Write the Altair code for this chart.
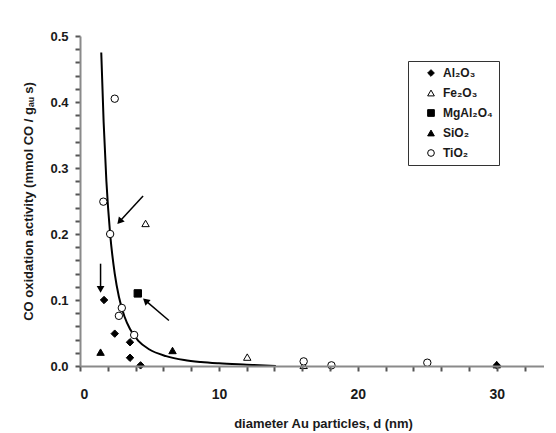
import altair as alt
import pandas as pd

# ---- data ----
supports = ["Al\u2082O\u2083", "Fe\u2082O\u2083", "MgAl\u2082O\u2084", "SiO\u2082", "TiO\u2082"]

al_x = [1.73, 2.5, 3.6, 3.6, 4.36, 30.0]
al_y = [0.100, 0.049, 0.036, 0.0125, 0.001, 0.001]
fe_x = [4.72, 12.04, 16.1]
fe_y = [0.216, 0.0135, 0.001]
mg_x = [4.16]
mg_y = [0.110]
si_x = [1.48, 6.66, 30.0]
si_y = [0.021, 0.0235, 0.002]
ti_x = [2.5, 1.68, 2.17, 3.01, 2.8, 3.9, 16.1, 18.1, 25.0]
ti_y = [0.405, 0.249, 0.200, 0.088, 0.076, 0.047, 0.007, 0.001, 0.005]

curve_x = [1.53, 1.7, 1.9, 2.17, 2.5, 2.8, 3.2, 3.6, 4.2, 5.0, 6.2, 7.5, 8.7, 10.0, 12.0, 14.1]
curve_y = [0.475, 0.37, 0.28, 0.20, 0.14, 0.105, 0.075, 0.056, 0.038, 0.025, 0.015, 0.009, 0.006, 0.004, 0.002, 0.0]

arrow_x0 = [4.54, 1.48, 6.4]
arrow_y0 = [0.2575, 0.155, 0.069]
arrow_x1 = [2.85, 1.48, 4.72]
arrow_y1 = [0.219, 0.116, 0.099]
arrow_angle = [221, 180, 312]

x_ticks = [0, 2, 4, 6, 8, 10, 12, 14, 16, 18, 20, 22, 24, 26, 28, 30, 32]
y_ticks = [0.0, 0.02, 0.04, 0.06, 0.08, 0.1, 0.12, 0.14, 0.16, 0.18, 0.2, 0.22, 0.24,
           0.26, 0.28, 0.3, 0.32, 0.34, 0.36, 0.38, 0.4, 0.42, 0.44, 0.46, 0.48, 0.5]

# ---- tables ----
rows = []
for name, xs, ys in zip(supports, [al_x, fe_x, mg_x, si_x, ti_x], [al_y, fe_y, mg_y, si_y, ti_y]):
    for a, b in zip(xs, ys):
        rows.append({"support": name, "d": a, "act": b})
pts = pd.DataFrame(rows)
curve = pd.DataFrame({"d": curve_x, "act": curve_y})
arrows = pd.DataFrame({"x0": arrow_x0, "y0": arrow_y0, "x1": arrow_x1, "y1": arrow_y1, "ang": arrow_angle})

FONT = "Liberation Sans"
W, H = 464, 330
x_scale = alt.Scale(domain=[0, 33.4], nice=False, zero=False)
y_scale = alt.Scale(domain=[0, 0.5], nice=False)

x_axis = alt.Axis(values=x_ticks, labelExpr="datum.value % 10 == 0 ? datum.label : ''",
                  title="diameter Au particles, d  (nm)", grid=False, ticks=True, labelPadding=16,
                  labelFontSize=14, titlePadding=16, titleX=243, zindex=1,
                  tickColor="#555555", tickSize=5, tickWidth=2)
y_axis = alt.Axis(values=y_ticks,
                  labelExpr="abs(datum.value*10 - round(datum.value*10)) < 0.000001 ? format(datum.value, '.1f') : ''",
                  title="CO oxidation activity (mmol CO / g\u2090\u1d64 s)", grid=False, ticks=True,
                  labelPadding=7, labelFontSize=13, titlePadding=14, zindex=1,
                  tickColor="#555555", tickSize=5, tickWidth=2)


def X(f):
    return alt.X(f, type="quantitative", scale=x_scale, axis=x_axis)


def Y(f):
    return alt.Y(f, type="quantitative", scale=y_scale, axis=y_axis)


leg = alt.Legend(title=None, orient="none", legendX=328, legendY=25,
                 symbolStrokeColor="black", symbolStrokeWidth=1)

points = alt.Chart(pts).mark_point(filled=True, strokeWidth=1, size=55, opacity=1).encode(
    x=X("d"), y=Y("act"),
    shape=alt.Shape("support:N", scale=alt.Scale(domain=supports,
                    range=["diamond", "triangle-up", "square", "triangle-up", "circle"]), legend=leg),
    fill=alt.Fill("support:N", scale=alt.Scale(domain=supports,
                  range=["black", "white", "black", "black", "white"]), legend=leg),
    stroke=alt.Stroke("support:N", scale=alt.Scale(domain=supports,
                      range=["black", "black", "black", "black", "black"]), legend=leg),
)

line = alt.Chart(curve).mark_line(color="black", strokeWidth=2, interpolate="monotone").encode(
    x=X("d"), y=Y("act")
)

arrow_lines = alt.Chart(arrows).mark_rule(color="black", strokeWidth=1.5).encode(
    x=X("x0"), y=Y("y0"), x2="x1", y2="y1"
)
arrow_heads = alt.Chart(arrows).mark_point(shape="triangle-up", filled=True, color="black", size=60, opacity=1).encode(
    x=X("x1"), y=Y("y1"), angle=alt.Angle("ang:Q", scale=None)
)

chart = alt.layer(line, arrow_lines, arrow_heads, points).properties(
    width=W, height=H, autosize="none",
    padding={"left": 72, "top": 28, "right": 0, "bottom": 68},
    background="white",
).configure_view(stroke=None).configure_axis(
    domainColor="#8a8a8a", domainWidth=2,
    labelFont=FONT, labelFontWeight="bold", labelColor="#1a1a1a",
    titleFont=FONT, titleFontWeight="bold", titleFontSize=13, titleColor="#1a1a1a",
).configure_legend(
    strokeColor="#333", fillColor="white", padding=6, rowPadding=8, symbolOffset=11,
    labelFont=FONT, labelFontWeight="bold", labelFontSize=12, labelColor="#1a1a1a",
    symbolSize=45, symbolStrokeWidth=1, symbolStrokeColor="black", labelOffset=6,
)

chart.save("out.html", embed_options={"renderer": "svg", "actions": False})
